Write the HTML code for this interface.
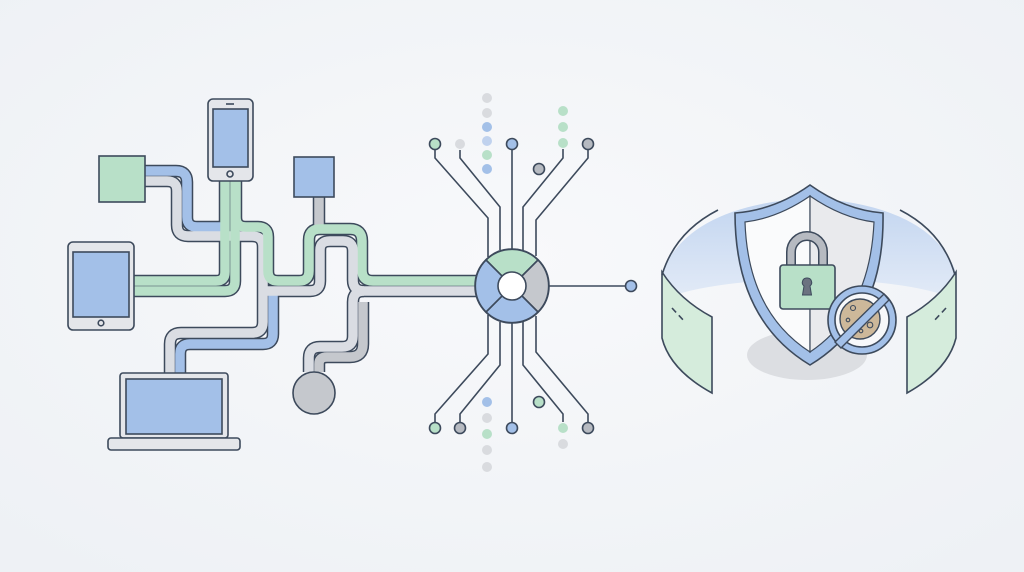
<!DOCTYPE html>
<html><head><meta charset="utf-8"><style>
html,body{margin:0;padding:0;width:1024px;height:572px;overflow:hidden;background:#f3f5f8}
svg{display:block}
</style></head><body>
<svg width="1024" height="572" viewBox="0 0 1024 572" xmlns="http://www.w3.org/2000/svg">
<defs>
<radialGradient id="bg" cx="50%" cy="45%" r="70%"><stop offset="0" stop-color="#f8f9fb"/><stop offset="1" stop-color="#eef1f5"/></radialGradient>
<linearGradient id="band" x1="0" y1="0" x2="0" y2="1"><stop offset="0" stop-color="#c2d5f0"/><stop offset="1" stop-color="#e3ebf7"/></linearGradient>
</defs>
<rect width="1024" height="572" fill="url(#bg)"/>
<g fill="none" stroke-linecap="butt" stroke-linejoin="round">
<g stroke="#3d4a5c" stroke-width="12.5">
<path d="M145,171 H176 Q187,171 187,182 V217 Q187,227 197,227 H228"/>
<path d="M145,181 H167 Q177,181 177,191 V225 Q177,236 188,236 H252 Q263,236 263,247 V322 Q263,333 252,333 H181 Q170,333 170,344 V373"/>
<path d="M180,373 V354 Q180,344 190,344 H263 Q273,344 273,334 V290"/>
<path d="M134,281 H216 Q225,281 225,272 V181"/>
<path d="M134,291 H225 Q235,291 235,281 V181"/>
<path d="M236,181 V217 Q236,227 246,227 H258 Q268,227 268,237 V271 Q268,281 278,281 H299 Q309,281 309,271 V240 Q309,229 320,229 H350 Q362,229 362,241 V270 Q362,281 373,281 H478"/>
<path d="M319,197 V232"/>
<path d="M263,291 H310 Q320,291 320,281 V250 Q320,241 330,241 H343 Q353,241 353,251 V280 Q353,291 364,291 H478"/>
<path d="M309,372 V358 Q309,347 320,347 H342 Q353,347 353,336 V302 Q353,291 364,291"/>
<path d="M319,372 V364 Q319,357 327,357 H350 Q363,357 363,344 V302"/>
</g>
<path d="M145,171 H176 Q187,171 187,182 V217 Q187,227 197,227 H228" stroke="#a3c0e8" stroke-width="9.5"/>
<path d="M145,181 H167 Q177,181 177,191 V225 Q177,236 188,236 H252 Q263,236 263,247 V322 Q263,333 252,333 H181 Q170,333 170,344 V373" stroke="#dadde3" stroke-width="9.5"/>
<path d="M180,373 V354 Q180,344 190,344 H263 Q273,344 273,334 V290" stroke="#a3c0e8" stroke-width="9.5"/>
<path d="M134,281 H216 Q225,281 225,272 V181" stroke="#b8e0c8" stroke-width="9.5"/>
<path d="M134,291 H225 Q235,291 235,281 V181" stroke="#b8e0c8" stroke-width="9.5"/>
<path d="M319,197 V232" stroke="#c5c8cd" stroke-width="9.5"/>
<path d="M236,181 V217 Q236,227 246,227 H258 Q268,227 268,237 V271 Q268,281 278,281 H299 Q309,281 309,271 V240 Q309,229 320,229 H350 Q362,229 362,241 V270 Q362,281 373,281 H478" stroke="#b8e0c8" stroke-width="9.5"/>
<path d="M263,291 H310 Q320,291 320,281 V250 Q320,241 330,241 H343 Q353,241 353,251 V280 Q353,291 364,291 H478" stroke="#dadde3" stroke-width="9.5"/>
<path d="M309,372 V358 Q309,347 320,347 H342 Q353,347 353,336 V302 Q353,291 364,291" stroke="#dadde3" stroke-width="9.5"/>
<path d="M319,372 V364 Q319,357 327,357 H350 Q363,357 363,344 V302" stroke="#c5c8cd" stroke-width="9.5"/>
</g>
<g stroke="#3d4a5c" stroke-width="1.6">
<rect x="99" y="156" width="46" height="46" fill="#b8e0c8"/>
<rect x="208" y="99" width="45" height="82" rx="5" fill="#e4e6ea"/>
<rect x="213" y="109" width="35" height="58" fill="#a3c0e8"/>
<circle cx="230" cy="174" r="3" fill="#e4e6ea"/>
<line x1="226" y1="104" x2="234" y2="104"/>
<rect x="294" y="157" width="40" height="40" fill="#a3c0e8"/>
<rect x="68" y="242" width="66" height="88" rx="5" fill="#e4e6ea"/>
<rect x="73" y="252" width="56" height="65" fill="#a3c0e8"/>
<circle cx="101" cy="323" r="2.8" fill="#e4e6ea"/>
<rect x="120" y="373" width="108" height="65" rx="3" fill="#e4e6ea"/>
<rect x="126" y="379" width="96" height="55" fill="#a3c0e8"/>
<rect x="108" y="438" width="132" height="12" rx="3" fill="#e4e6ea"/>
<circle cx="314" cy="393" r="21" fill="#c5c8cd"/>
</g>
<g fill="none" stroke="#3d4a5c" stroke-width="1.6">
<path d="M435,150 V158 L488,218 V257"/><path d="M460,150 V158 L500,207 V250"/>
<path d="M512,150 V250"/><path d="M563,149 V158 L523,207 V250"/><path d="M588,150 V158 L536,220 V256"/>
<path d="M435,422 V414 L488,354 V315"/><path d="M460,422 V414 L500,365 V322"/>
<path d="M512,422 V322"/><path d="M563,422 V414 L523,365 V322"/><path d="M588,422 V414 L536,352 V316"/>
<path d="M548,286 H625"/>
</g>
<g stroke="#3d4a5c" stroke-width="1.6">
<circle cx="435" cy="144" r="5.5" fill="#b8e0c8"/><circle cx="512" cy="144" r="5.5" fill="#a3c0e8"/>
<circle cx="588" cy="144" r="5.5" fill="#b6bac1"/><circle cx="539" cy="169" r="5.5" fill="#b6bac1"/>
<circle cx="435" cy="428" r="5.5" fill="#b8e0c8"/><circle cx="460" cy="428" r="5.5" fill="#b6bac1"/>
<circle cx="512" cy="428" r="5.5" fill="#a3c0e8"/><circle cx="588" cy="428" r="5.5" fill="#b6bac1"/>
<circle cx="539" cy="402" r="5.5" fill="#b8e0c8"/><circle cx="631" cy="286" r="5.5" fill="#a3c0e8"/>
</g>
<g>
<circle cx="460" cy="144" r="5" fill="#d9dbdf"/>
<circle cx="487" cy="98" r="5" fill="#d9dbdf"/><circle cx="487" cy="113" r="5" fill="#d9dbdf"/>
<circle cx="487" cy="127" r="5" fill="#a3c0e8"/><circle cx="487" cy="141" r="5" fill="#c0d2ee"/>
<circle cx="487" cy="155" r="5" fill="#b8e0c8"/><circle cx="487" cy="169" r="5" fill="#a3c0e8"/>
<circle cx="563" cy="111" r="5" fill="#b8e0c8"/><circle cx="563" cy="127" r="5" fill="#b8e0c8"/><circle cx="563" cy="143" r="5" fill="#b8e0c8"/>
<circle cx="487" cy="402" r="5" fill="#a3c0e8"/><circle cx="487" cy="418" r="5" fill="#d9dbdf"/>
<circle cx="487" cy="434" r="5" fill="#b8e0c8"/><circle cx="487" cy="450" r="5" fill="#d9dbdf"/><circle cx="487" cy="467" r="5" fill="#d9dbdf"/>
<circle cx="563" cy="428" r="5" fill="#b8e0c8"/><circle cx="563" cy="444" r="5" fill="#d9dbdf"/>
</g>
<g stroke="#3d4a5c" stroke-width="1.6">
<path d="M512,286 L486,260 A37,37 0 0 1 538,260 Z" fill="#b8e0c8"/>
<path d="M512,286 L538,260 A37,37 0 0 1 538,312 Z" fill="#c5c8cd"/>
<path d="M512,286 L538,312 A37,37 0 0 1 486,312 Z" fill="#a3c0e8"/>
<path d="M512,286 L486,312 A37,37 0 0 1 486,260 Z" fill="#a3c0e8"/>
<circle cx="512" cy="286" r="37" fill="none"/>
<circle cx="512" cy="286" r="14" fill="#fff"/>
</g>
<path d="M662,272 Q690,205 810,198 Q930,205 956,272 L956,300 Q920,282 810,278 Q700,282 662,300 Z" fill="url(#band)"/>
<g stroke="#3d4a5c" stroke-width="1.6">
<path d="M662,272 V338 Q670,370 712,393 V317 Q680,300 662,272 Z" fill="#d5ecdc"/>
<path d="M956,272 V338 Q948,370 907,393 V317 Q938,300 956,272 Z" fill="#d5ecdc"/>
</g>
<g fill="none" stroke="#3d4a5c" stroke-width="1.6">
<path d="M662,275 Q675,232 718,210"/><path d="M900,210 Q943,232 955,275"/>
<path d="M672,308 L685,322" stroke-dasharray="6 4"/><path d="M946,308 L933,322" stroke-dasharray="6 4"/>
</g>
<ellipse cx="807" cy="355" rx="60" ry="25" fill="#dcdee2"/>
<path d="M810,185 Q775,210 735,213 Q735,320 810,365 Q885,320 883,213 Q845,210 810,185 Z" fill="#a3c0e8" stroke="#3d4a5c" stroke-width="1.6"/>
<path d="M810,196 Q778,218 745,222 Q748,312 810,352 Z" fill="#fafbfc" stroke="#3d4a5c" stroke-width="1.2"/>
<path d="M810,196 Q842,218 874,222 Q870,312 810,352 Z" fill="#e9eaed" stroke="#3d4a5c" stroke-width="1.2"/>
<path d="M791,265 V252 A16,16 0 0 1 823,252 V265" fill="none" stroke="#3d4a5c" stroke-width="10"/>
<path d="M791,265 V252 A16,16 0 0 1 823,252 V265" fill="none" stroke="#b6bac1" stroke-width="7"/>
<rect x="780" y="265" width="55" height="44" rx="3" fill="#b8e0c8" stroke="#3d4a5c" stroke-width="1.6"/>
<path d="M807,278 a4.5,4.5 0 0 1 3,8 l1.5,9 h-9 l1.5,-9 a4.5,4.5 0 0 1 3,-8 Z" fill="#6b7280" stroke="#3d4a5c" stroke-width="1"/>
<circle cx="862" cy="320" r="34" fill="#a3c0e8" stroke="#3d4a5c" stroke-width="1.6"/>
<circle cx="862" cy="320" r="27" fill="#f7f8fa" stroke="#3d4a5c" stroke-width="1.6"/>
<circle cx="860" cy="319" r="20" fill="#cdb89a" stroke="#3d4a5c" stroke-width="1.4"/>
<g fill="none" stroke="#3d4a5c" stroke-width="1.1"><circle cx="853" cy="308" r="2.5"/><circle cx="848" cy="320" r="1.8"/><circle cx="870" cy="325" r="2.8"/><circle cx="861" cy="331" r="1.8"/></g>
<path d="M884,294 L889,300 L841,348 L835,342 Z" fill="#a3c0e8" stroke="#3d4a5c" stroke-width="1.4"/>
</svg>
</body></html>
